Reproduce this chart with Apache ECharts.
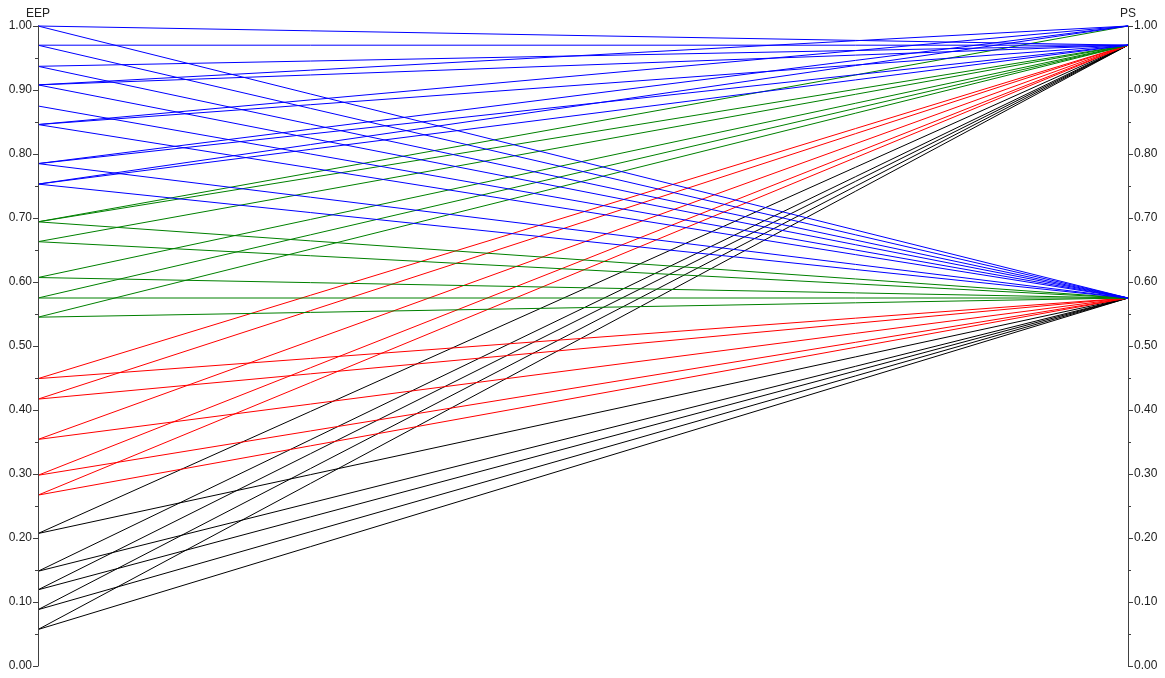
<!DOCTYPE html>
<html>
<head>
<meta charset="utf-8">
<style>
  html, body { margin: 0; padding: 0; background: #fff; }
  #chart { width: 1165px; height: 678px; }
</style>
<script src="https://cdn.jsdelivr.net/npm/echarts@6/dist/echarts.min.js"></script>
</head>
<body>
<div id="chart"></div>
<script>
// Axis names and tick settings
const axisNames = ['EEP', 'PS'];
const axisMin = 0;
const axisMax = 1;
const axisStep = 0.1;

// Each row: [EEP, PS]
const blueRows = [
  [1.000, 0.970], [1.000, 0.575],
  [0.970, 0.970], [0.970, 0.575],
  [0.937, 0.970], [0.937, 0.575],
  [0.908, 1.000], [0.908, 0.970], [0.908, 0.575],
  [0.875, 0.575],
  [0.846, 1.000], [0.846, 0.970], [0.846, 0.575],
  [0.785, 1.000], [0.785, 0.970], [0.785, 0.575],
  [0.753, 1.000], [0.753, 0.970], [0.753, 0.575]
];
const greenRows = [
  [0.694, 1.000], [0.694, 0.970], [0.694, 0.575],
  [0.663, 0.970], [0.663, 0.575],
  [0.607, 0.970], [0.607, 0.575],
  [0.575, 0.970], [0.575, 0.575],
  [0.545, 0.970], [0.545, 0.575]
];
const redRows = [
  [0.449, 0.970], [0.449, 0.575],
  [0.417, 0.970], [0.417, 0.575],
  [0.354, 0.970], [0.354, 0.575],
  [0.298, 0.970], [0.298, 0.575],
  [0.267, 0.970], [0.267, 0.575]
];
const blackRows = [
  [0.207, 0.970], [0.207, 0.575],
  [0.148, 0.970], [0.148, 0.575],
  [0.119, 0.970], [0.119, 0.575],
  [0.088, 0.970], [0.088, 0.575],
  [0.057, 0.970], [0.057, 0.575]
];

const groups = [
  { rows: blackRows, color: '#000000' },
  { rows: redRows, color: '#ff0000' },
  { rows: greenRows, color: '#008000' },
  { rows: blueRows, color: '#0000ff' }
];

const labelStyle = {
  fontFamily: 'Liberation Sans, Arial, sans-serif',
  fontSize: 12,
  color: '#222222'
};

// Parallel axes put labels/ticks on the right; the first axis flips them to the left
function makeAxis(dim, flip) {
  const s = flip ? -1 : 1;
  return {
    dim: dim,
    name: axisNames[dim],
    type: 'value',
    min: axisMin,
    max: axisMax,
    interval: axisStep,
    nameLocation: 'end',
    nameGap: 6,
    nameTextStyle: Object.assign({ align: 'center', verticalAlign: 'bottom' }, labelStyle),
    axisLine: { show: true, lineStyle: { color: '#404040', width: 1 } },
    axisTick: { show: true, length: 5 * s, lineStyle: { color: '#404040' } },
    minorTick: { show: true, splitNumber: 2, length: 3 * s, lineStyle: { color: '#404040' } },
    axisLabel: Object.assign({
      show: true,
      margin: 6 * s,
      align: flip ? 'right' : 'left',
      verticalAlign: 'middle',
      formatter: function (v) { return v.toFixed(2); }
    }, labelStyle)
  };
}

const chart = echarts.init(document.getElementById('chart'), null, { renderer: 'canvas' });
chart.setOption({
  animation: false,
  backgroundColor: '#ffffff',
  parallel: {
    left: 38,
    right: 37,
    top: 26,
    bottom: 12,
    layout: 'horizontal',
    axisExpandable: false
  },
  parallelAxis: [makeAxis(0, true), makeAxis(1, false)],
  series: groups.map(function (g) {
    return {
      type: 'parallel',
      silent: true,
      smooth: false,
      inactiveOpacity: 1,
      activeOpacity: 1,
      lineStyle: { color: g.color, width: 1, opacity: 1 },
      emphasis: { disabled: true },
      data: g.rows
    };
  })
});
</script>
</body>
</html>
